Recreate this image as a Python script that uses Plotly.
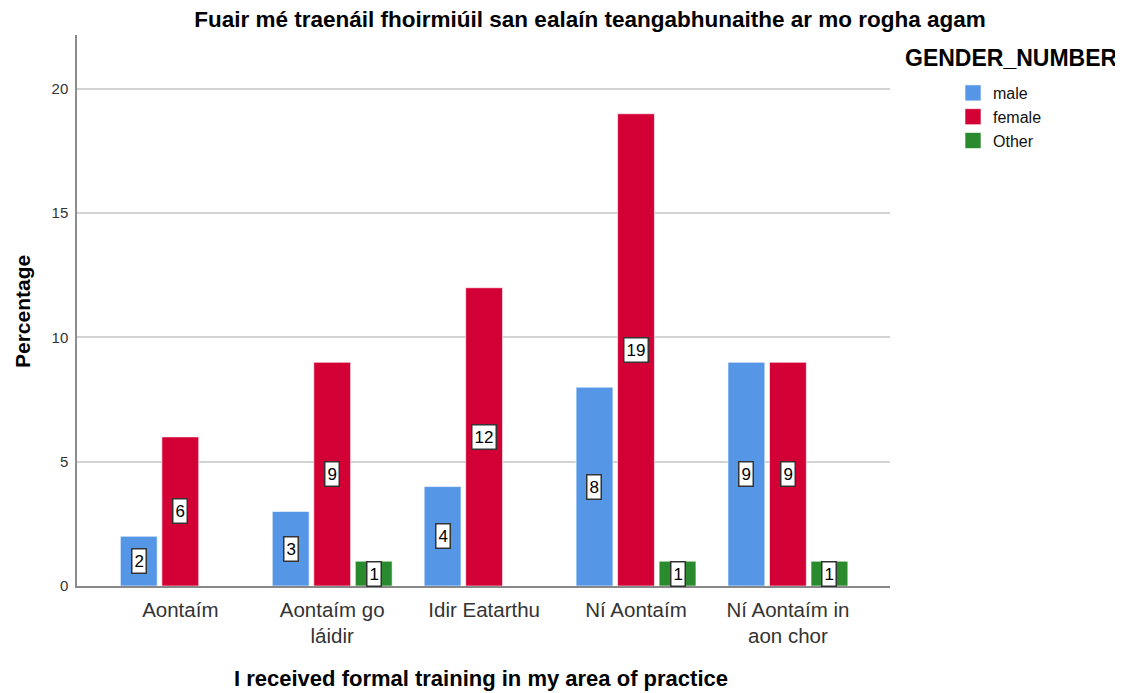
import plotly.graph_objects as go

categories = ["Aontaím", "Aontaím go<br>láidir", "Idir Eatarthu", "Ní Aontaím", "Ní Aontaím in<br>aon chor"]
series_names = ["male", "female", "Other"]
male = [2, 3, 4, 8, 9]
female = [6, 9, 12, 19, 9]
other = [None, 1, None, 1, 1]
colors = ["#5596E6", "#D30036", "#2A8A2E"]
y_ticks = [0, 5, 10, 15, 20]

FONT = "Liberation Sans, Arial, sans-serif"

# figure is placed with an 8px body margin in the page
OFF = 8
W, H = 1115, 685
L, R, T, B = 69, 233, 27, 107
pw, ph = W - L - R, H - T - B


def px_x(page_x):
    return (page_x - OFF - L) / pw


def px_y(page_y):
    return (H - B - (page_y - OFF)) / ph


BARGAP, GROUPGAP = 0.18, 0.113

fig = go.Figure()
all_series = [male, female, other]
for name, vals, col in zip(series_names, all_series, colors):
    fig.add_trace(go.Bar(
        x=list(range(len(categories))), y=vals, name=name,
        marker=dict(color=col, line=dict(color="rgba(255,255,255,0.6)", width=1)),
        showlegend=False, hoverinfo="x+y+name",
    ))
    # legend entry with a larger square swatch
    fig.add_trace(go.Scatter(
        x=[None], y=[None], mode="markers", name=name,
        marker=dict(symbol="square", size=16, color=col, line=dict(color="rgba(255,255,255,0.6)", width=1)),
        showlegend=True, hoverinfo="skip",
    ))

# value labels in boxes (centered at half height of each bar)
slot = (1 - BARGAP) / 3
for si, vals in enumerate(all_series):
    for ci, v in enumerate(vals):
        if v is None:
            continue
        fig.add_annotation(
            x=ci + (si - 1) * slot, y=v / 2, xref="x", yref="y",
            text=str(v), showarrow=False,
            font=dict(family=FONT, size=17, color="#000"),
            bgcolor="white", bordercolor="#333", borderwidth=1.5, borderpad=2,
        )

# legend title
fig.add_annotation(
    x=px_x(903), y=px_y(58), xref="paper", yref="paper",
    text="<b>GENDER_NUMBER</b>", showarrow=False,
    font=dict(family=FONT, size=23, color="#000"),
    xanchor="left", yanchor="middle",
)
# axis titles
fig.add_annotation(
    x=px_x(481), y=px_y(678), xref="paper", yref="paper",
    text="<b>I received formal training in my area of practice</b>", showarrow=False,
    font=dict(family=FONT, size=22, color="#000"), xanchor="center", yanchor="middle",
)
fig.add_annotation(
    x=px_x(22), y=px_y(312), xref="paper", yref="paper", textangle=-90,
    text="<b>Percentage</b>", showarrow=False,
    font=dict(family=FONT, size=21, color="#000"), xanchor="center", yanchor="middle",
)

fig.update_layout(
    width=W, height=H,
    margin=dict(l=L, r=R, t=T, b=B, autoexpand=False),
    paper_bgcolor="white", plot_bgcolor="white",
    barmode="group", bargap=BARGAP, bargroupgap=GROUPGAP,
    title=dict(text="<b>Fuair mé traenáil fhoirmiúil san ealaín teangabhunaithe ar mo rogha agam</b>",
               x=(590 - OFF) / W, xanchor="center", y=1 - (19 - OFF) / H, yanchor="middle",
               font=dict(family=FONT, size=22.5, color="#000")),
    legend=dict(x=px_x(953), y=px_y(76), xanchor="left", yanchor="top",
                font=dict(family=FONT, size=16, color="#111"),
                tracegroupgap=0, bgcolor="rgba(0,0,0,0)", borderwidth=0),
    xaxis=dict(
        tickmode="array", tickvals=list(range(len(categories))), ticktext=categories,
        range=[-0.68, 4.672], showgrid=False, zeroline=False, automargin=False,
        showline=True, linecolor="#888", linewidth=2,
        ticks="", ticklabelstandoff=4, tickfont=dict(family=FONT, size=20.5, color="#333"),
    ),
    yaxis=dict(
        range=[0, 22.17], tickvals=y_ticks, showgrid=True, gridcolor="#d3d3d3", gridwidth=2,
        zeroline=False, showline=True, linecolor="#8c8c8c", linewidth=1.5, automargin=False,
        ticks="", ticklabelstandoff=4, tickfont=dict(family=FONT, size=15, color="#333"),
    ),
)

fig.write_html("out.html")
